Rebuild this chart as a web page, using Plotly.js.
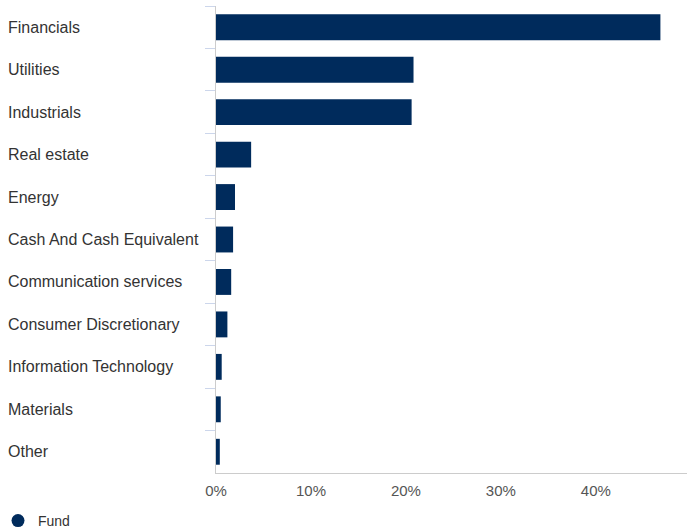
<!DOCTYPE html>
<html>
<head>
<meta charset="utf-8">
<script src="https://cdn.plot.ly/plotly-3.0.1.min.js"></script>
<style>html,body{margin:0;padding:0;background:#fff}#chart{width:688px;height:529px}</style>
</head>
<body>
<div id="chart"></div>
<script>
const categories = ["Financials","Utilities","Industrials","Real estate","Energy","Cash And Cash Equivalent","Communication services","Consumer Discretionary","Information Technology","Materials","Other"];
const fundValues = [46.8, 20.8, 20.6, 3.7, 2.0, 1.8, 1.6, 1.2, 0.6, 0.5, 0.4];
const seriesName = "Fund";
const xTickValues = [0, 10, 20, 30, 40];

const barColor = "#002b5c";
const L = 216, R = 687, T = 6, B = 473, W = 688, H = 529;
const pw = R - L, ph = B - T;

const traces = [
  {type:"bar", orientation:"h", x: fundValues, y: categories, marker:{color:barColor}, showlegend:false, hoverinfo:"x+y"},
  {type:"scatter", mode:"markers", x:[null], y:[null], name: seriesName, marker:{color:barColor, size:13, symbol:"circle"}, showlegend:true}
];

const annotations = categories.map(c => ({
  xref:"paper", yref:"y", x:(6 - L)/pw, y:c, xanchor:"left", yanchor:"middle",
  text:c, showarrow:false, font:{family:"Liberation Sans, Arial, sans-serif", size:16, color:"#333333"}
}));

const layout = {
  width: W, height: H,
  margin:{l:L, r:W-R, t:T, b:H-B, pad:0, autoexpand:false},
  paper_bgcolor:"#ffffff", plot_bgcolor:"#ffffff",
  bargap:0.39,
  font:{family:"Liberation Sans, Arial, sans-serif", color:"#333333"},
  xaxis:{range:[0,49.6], tickvals:xTickValues, ticktext:xTickValues.map(v=>v+"%"), showgrid:false, zeroline:false,
         showline:true, linecolor:"#cccccc", linewidth:1, ticks:"", ticklabelstandoff:4, tickfont:{size:15, color:"#555555"}, fixedrange:true, automargin:false},
  yaxis:{type:"category", autorange:"reversed", showticklabels:false, showgrid:false, zeroline:false, automargin:false,
         showline:true, linecolor:"#cccccc", linewidth:1, ticks:"outside", tickson:"boundaries", ticklen:10, tickcolor:"#ccd6eb", tickwidth:1},
  showlegend:true,
  legend:{orientation:"h", x:(-2 - L)/pw, xanchor:"left", y:(B - 505)/ph, yanchor:"top", font:{size:14, color:"#333333"}, itemwidth:30, bgcolor:"rgba(0,0,0,0)"},
  annotations: annotations
};

Plotly.newPlot("chart", traces, layout, {displayModeBar:false, staticPlot:true});
</script>
</body>
</html>
